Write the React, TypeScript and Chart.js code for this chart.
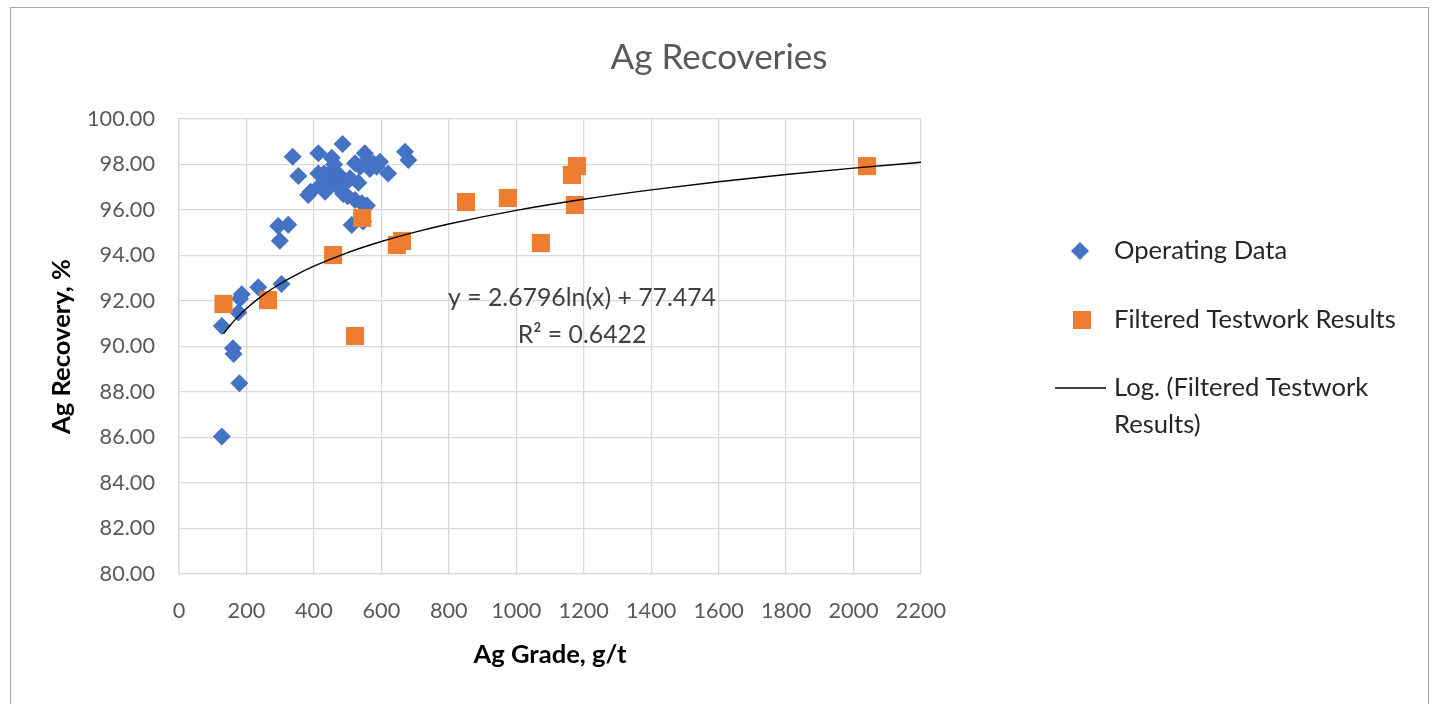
import React, { useEffect, useRef } from "react";
import { Chart, registerables } from "chart.js";

Chart.register(...registerables);

// ---- data ----
const operatingX = [127, 179, 160, 162, 127, 176, 186, 181, 235, 304, 299, 294, 324, 337, 354, 383, 390, 413, 413, 420, 433, 440, 448, 453, 457, 465, 472, 478, 485, 487, 495, 507, 512, 522, 522, 532, 537, 542, 546, 551, 557, 561, 566, 576, 586, 596, 620, 670, 680, 460, 430, 500];
const operatingY = [86.04, 88.38, 89.92, 89.67, 90.9, 91.5, 92.3, 92.1, 92.6, 92.75, 94.65, 95.3, 95.35, 98.34, 97.5, 96.66, 96.8, 98.49, 97.6, 97.1, 96.8, 97.3, 97.5, 98.3, 97.76, 97.2, 97.0, 97.5, 98.9, 96.7, 97.2, 97.4, 95.34, 98.05, 96.44, 97.2, 97.9, 96.3, 95.5, 98.49, 96.2, 98.12, 97.8, 98.05, 97.9, 98.12, 97.6, 98.56, 98.2, 98.0, 97.6, 96.6];

const testworkX = [132, 264, 457, 522, 543, 646, 661, 851, 975, 1073, 1165, 1180, 1174, 2040];
const testworkY = [91.87, 92.04, 94.02, 90.46, 95.65, 94.46, 94.64, 96.35, 96.53, 94.55, 97.54, 97.93, 96.22, 97.93];

// logarithmic trendline shown on the chart: y = 2.6796 ln(x) + 77.474
const trendA = 2.6796;
const trendB = 77.474;
const trendX = [132, 150, 175, 200, 250, 300, 350, 400, 500, 600, 700, 800, 1000, 1200, 1400, 1600, 1800, 2000, 2200];

const xTickMin = 0;
const xTickMax = 2200;
const xTickStep = 200;
const yTickMin = 80;
const yTickMax = 100;
const yTickStep = 2;

const titleText = "Ag Recoveries";
const xTitle = "Ag Grade, g/t";
const yTitle = "Ag Recovery, %";
const eqLine1 = "y = 2.6796ln(x) + 77.474";
const eqLine2 = "R² = 0.6422";
const legendOperating = "Operating Data";
const legendTestwork = "Filtered Testwork Results";
const legendTrend1 = "Log. (Filtered Testwork";
const legendTrend2 = "Results)";

const FAMILY = "Lato, 'Open Sans', 'DejaVu Sans', sans-serif";
const BLUE = "#4472C4";
const ORANGE = "#ED7D31";
const GRID = "#d9d9d9";

function fitSize(text: string, weight: string, target: number): number {
  const c = document.createElement("canvas").getContext("2d")!;
  c.font = `${weight} 100px ${FAMILY}`;
  const w = c.measureText(text).width;
  return (100 * target) / w;
}

export default function App() {
  const ref = useRef<HTMLCanvasElement | null>(null);

  useEffect(() => {
    const canvas = ref.current;
    if (!canvas) return;

    const tickSize = fitSize("100.00", "normal", 68);
    const titleSize = fitSize(titleText, "normal", 217);
    const legendSize = fitSize(legendTestwork, "normal", 282);
    const eqSize = fitSize(eqLine1, "normal", 268);
    const axisTitleSize = fitSize(xTitle, "bold", 153);

    const operating = operatingX.map((x, i) => ({ x, y: operatingY[i] }));
    const testwork = testworkX.map((x, i) => ({ x, y: testworkY[i] }));
    const trend = trendX.map((x) => ({ x, y: trendA * Math.log(x) + trendB }));

    const overlay = {
      id: "overlay",
      afterDraw(chart: any) {
        const ctx = chart.ctx as CanvasRenderingContext2D;
        ctx.save();
        // title
        ctx.fillStyle = "#595959";
        ctx.font = `normal ${titleSize}px ${FAMILY}`;
        ctx.textAlign = "center";
        ctx.textBaseline = "middle";
        ctx.fillText(titleText, 708, 50);
        // equation
        ctx.fillStyle = "#404040";
        ctx.font = `normal ${eqSize}px ${FAMILY}`;
        ctx.fillText(eqLine1, 571, 290);
        ctx.fillText(eqLine2, 571, 327);
        // legend
        ctx.textAlign = "left";
        ctx.font = `normal ${legendSize}px ${FAMILY}`;
        // diamond
        ctx.fillStyle = BLUE;
        ctx.beginPath();
        ctx.moveTo(1069 - 9, 243);
        ctx.lineTo(1069, 243 - 9);
        ctx.lineTo(1069 + 9, 243);
        ctx.lineTo(1069, 243 + 9);
        ctx.closePath();
        ctx.fill();
        ctx.fillStyle = "#262626";
        ctx.fillText(legendOperating, 1103, 243);
        // square
        ctx.fillStyle = ORANGE;
        ctx.fillRect(1071 - 9, 312 - 9, 18, 18);
        ctx.fillStyle = "#262626";
        ctx.fillText(legendTestwork, 1103, 312);
        // line
        ctx.strokeStyle = "#000";
        ctx.lineWidth = 1.3;
        ctx.beginPath();
        ctx.moveTo(1044, 380);
        ctx.lineTo(1095, 380);
        ctx.stroke();
        ctx.fillText(legendTrend1, 1103, 380);
        ctx.fillText(legendTrend2, 1103, 417);
        ctx.restore();
      },
    };

    const chart = new Chart(canvas, {
      type: "scatter",
      data: {
        datasets: [
          {
            label: "Log. (Filtered Testwork Results)",
            data: trend,
            showLine: true,
            borderColor: "#000000",
            backgroundColor: "#000000",
            borderWidth: 1.4,
            pointRadius: 0,
            cubicInterpolationMode: "monotone",
            order: 0,
          } as any,
          {
            label: "Filtered Testwork Results",
            data: testwork,
            pointStyle: "rect",
            pointRadius: 12.8,
            backgroundColor: ORANGE,
            borderColor: ORANGE,
            borderWidth: 0,
            order: 1,
          },
          {
            label: "Operating Data",
            data: operating,
            pointStyle: "rectRot",
            pointRadius: 9,
            backgroundColor: BLUE,
            borderColor: BLUE,
            borderWidth: 0,
            order: 2,
          },
        ],
      },
      options: {
        responsive: false,
        animation: false,
        events: [],
        layout: { padding: { top: 111, right: 507, left: 0, bottom: 0 } },
        plugins: {
          legend: { display: false },
          title: { display: false },
          tooltip: { enabled: false },
        },
        scales: {
          x: {
            type: "linear",
            min: xTickMin,
            max: xTickMax,
            ticks: {
              stepSize: xTickStep,
              color: "#595959",
              font: { family: FAMILY, size: tickSize },
              padding: 24,
              maxRotation: 0,
              autoSkip: false,
              callback: (v: any) => String(v),
            },
            grid: { color: GRID, lineWidth: 1.3, drawTicks: false },
            border: { color: GRID, width: 1.3 },
            title: {
              display: true,
              text: xTitle,
              color: "#000000",
              font: { family: FAMILY, size: axisTitleSize, weight: "bold" },
              padding: { top: 0, bottom: 49 - axisTitleSize * 0.6 },
            },
            afterFit: (s: any) => {
              s.height = 130;
            },
          },
          y: {
            type: "linear",
            min: yTickMin,
            max: yTickMax,
            ticks: {
              stepSize: yTickStep,
              color: "#595959",
              font: { family: FAMILY, size: tickSize },
              padding: 24,
              callback: (v: any) => Number(v).toFixed(2),
            },
            grid: { color: GRID, lineWidth: 1.3, drawTicks: false },
            border: { color: GRID, width: 1.3 },
            title: {
              display: true,
              text: yTitle,
              color: "#000000",
              font: { family: FAMILY, size: axisTitleSize, weight: "bold" },
              padding: { top: 51 - axisTitleSize * 0.6, bottom: 0 },
            },
            afterFit: (s: any) => {
              s.width = 168;
            },
          },
        },
      } as any,
      plugins: [overlay],
    });

    return () => chart.destroy();
  }, []);

  return (
    <div
      style={{
        position: "fixed",
        left: 10,
        top: 7,
        width: 1419,
        height: 720,
        border: "1px solid #a6a6a6",
        boxSizing: "border-box",
        background: "#ffffff",
      }}
    >
      <canvas
        ref={ref}
        width={1417}
        height={696}
        style={{ position: "absolute", left: 0, top: 0, width: 1417, height: 696 }}
      />
    </div>
  );
}
